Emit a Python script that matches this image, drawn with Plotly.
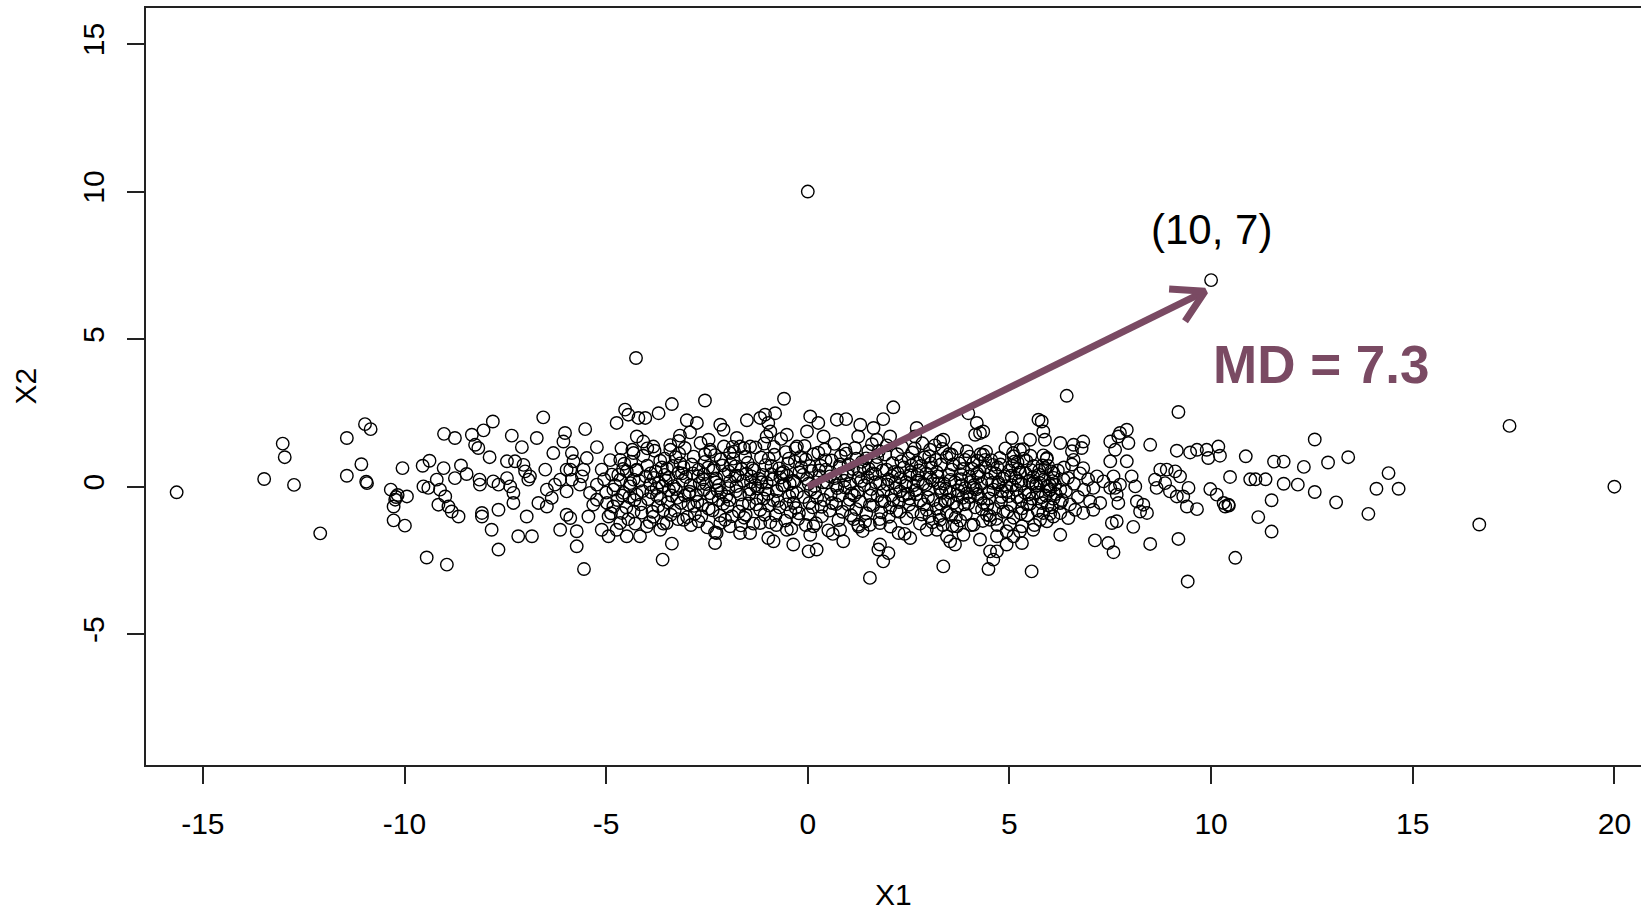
import math
import plotly.graph_objects as go

# ---------------- data ----------------
left_tail = [(-15.65, -0.19), (-13.02, 1.46), (-12.97, 1.0), (-13.48, 0.26), (-12.74, 0.06),
             (-12.09, -1.58), (-11.43, 1.65), (-11.43, 0.37), (-10.98, 2.12), (-10.84, 1.95),
             (-11.07, 0.76), (-10.95, 0.17), (-10.93, 0.12), (-10.05, 0.63), (-10.34, -0.10),
             (-10.21, -0.35), (-10.23, -0.44), (-10.27, -0.67), (-9.94, -0.33), (-10.27, -1.14),
             (-9.99, -1.32), (-10.17, -0.28), (-9.45, -2.40), (-9.38, 0.88), (-9.55, 0.71),
             (-9.53, 0.01), (-9.41, -0.04), (-9.16, -0.61), (-9.2, 0.24)]

left_band = [(-9.02, 1.79), (-8.75, 1.65), (-8.33, 1.76), (-8.04, 1.91), (-7.81, 2.21), (-8.25, 1.42),
             (-8.17, 1.31), (-7.89, 1.0), (-9.03, 0.63), (-8.6, 0.72), (-8.75, 0.29), (-8.46, 0.43),
             (-8.14, 0.24), (-8.13, 0.07), (-7.8, 0.18), (-7.67, 0.07), (-7.46, 0.86), (-7.34, 1.73),
             (-7.26, 0.86), (-7.05, 0.74), (-7.01, 0.52), (-6.93, 0.24), (-6.89, 0.35), (-7.09, 1.34),
             (-6.72, 1.65), (-6.56, 2.35), (-6.51, 0.58), (-7.46, 0.29), (-7.38, 0.01), (-7.3, -0.21),
             (-7.67, -0.78), (-8.08, -0.89), (-8.08, -1.01), (-7.84, -1.46), (-7.67, -2.13), (-7.3, -0.55),
             (-6.97, -1.01), (-7.18, -1.68), (-6.84, -1.68), (-8.95, -2.64), (-8.99, -0.33), (-8.91, -0.67),
             (-8.66, -1.01), (-8.83, -0.84), (-9.12, -0.1), (-6.68, -0.55), (-6.47, -0.67), (-6.35, -0.38),
             (-6.27, 0.07), (-6.14, 0.24), (-6.47, -0.1), (-6.31, 1.14), (-6.06, 1.53), (-6.02, 1.82),
             (-5.85, 1.14), (-5.81, 0.86), (-5.89, 0.58), (-5.52, 1.95), (-5.23, 1.34), (-5.48, 0.97),
             (-5.56, 0.58), (-5.6, 0.35), (-5.65, 0.07), (-5.4, -0.21), (-5.23, 0.07), (-5.98, 0.58),
             (-5.85, 0.24), (-5.98, -0.16), (-5.98, -0.95), (-5.89, -1.06), (-6.14, -1.46), (-5.73, -1.51),
             (-5.73, -2.02), (-5.55, -2.79), (-5.44, -1.01), (-5.32, -0.61), (-5.23, -0.44), (-5.11, -1.46),
             (-4.94, -1.68), (-4.74, -1.46), (-4.49, -1.68), (-4.65, -1.23), (-4.98, -0.55), (-4.82, -0.67),
             (-4.94, -1.01), (-4.61, -0.89), (-4.32, -0.84), (-5.11, 0.58), (-4.86, 0.41), (-4.65, 0.24),
             (-4.49, 0.52), (-4.32, 0.24), (-4.24, 0.58), (-4.41, 0.01), (-4.82, -0.1), (-4.57, -0.21),
             (-4.24, -0.27), (-4.65, 0.91), (-4.32, 1.14), (-4.74, 2.16), (-4.53, 2.61), (-4.45, 2.44),
             (-4.2, 2.33), (-4.24, 1.7)]

core_edges = [(-2.55, 2.92), (-3.37, 2.80), (-3.7, 2.49), (-4.03, 2.33), (-3.0, 2.25), (-2.75, 2.16),
              (-2.92, 1.84), (-3.17, 1.73), (-2.17, 2.1), (-2.09, 1.93), (-2.46, 1.59), (-2.42, 1.25),
              (-1.76, 1.65), (-1.68, 1.36), (-1.51, 2.25), (-1.18, 2.33), (-1.06, 2.44), (-0.81, 2.49),
              (-0.98, 2.16), (-0.93, 1.87), (-0.59, 2.98), (-0.52, 1.76), (-0.27, 1.36), (0.06, 2.38),
              (0.26, 2.16), (0.39, 1.7), (-0.02, 1.87), (0.72, 2.27), (-1.02, 1.7), (-1.43, 1.36),
              (-1.93, 1.14), (-3.41, 1.25), (-3.83, 1.36), (-4.08, 1.53),
              (-3.6, -2.47), (-3.37, -1.93), (-3.08, -1.12), (-2.71, -1.17), (-2.3, -1.91), (-2.26, -1.57),
              (-1.68, -1.57), (-1.43, -1.57), (-0.98, -1.74), (-0.85, -1.85), (-0.36, -1.96), (0.02, -2.19),
              (0.22, -2.13), (0.06, -1.63), (0.14, -1.34), (-0.52, -1.46), (-1.18, -1.23), (-1.93, -1.34),
              (-2.17, -1.23), (-3.66, -1.46), (-3.99, -1.34), (-3.5, -1.23), (-4.16, -1.68),
              (0.95, 2.29), (2.12, 2.69), (1.87, 2.29), (1.3, 2.1), (1.63, 1.99), (1.25, 1.7), (1.71, 1.59),
              (2.04, 1.7), (2.7, 1.99), (2.66, 1.7), (3.98, 2.49), (4.19, 2.16), (4.27, 1.82), (4.15, 1.76),
              (4.35, 1.87), (3.36, 1.59), (3.28, 1.53), (3.03, 1.25), (3.57, 1.08), (3.9, 0.91), (4.35, 1.08),
              (4.4, 0.91), (5.06, 1.65), (5.51, 1.59), (5.72, 2.27), (5.26, 1.25), (5.1, 1.03),
              (1.54, -3.09), (3.36, -2.7), (4.48, -2.79), (4.6, -2.47), (4.69, -2.19), (4.52, -2.19),
              (4.93, -1.96), (4.69, -1.68), (5.55, -2.87), (5.26, -1.51), (5.31, -1.91), (5.1, -1.68),
              (4.27, -1.79), (3.53, -1.85), (3.65, -1.96), (3.86, -1.63), (3.45, -1.68), (1.75, -2.13),
              (1.87, -2.53), (2.0, -2.25), (1.79, -1.96), (2.25, -1.57), (2.54, -1.74), (1.25, -1.29),
              (1.54, -1.29), (1.79, -1.23), (0.88, -1.85), (0.8, -1.46), (2.95, -1.46), (3.2, -1.46),
              (3.28, -1.12), (3.69, -1.34), (4.11, -1.29), (4.52, -1.12), (4.93, -1.51), (5.31, -1.34),
              (5.59, -1.46)]

core = [(-4.02, 0.35), (-3.96, -0.42), (-4.08, 1.05), (-3.91, 0.08), (-4.12, -0.88), (-3.98, 0.71), (-3.88, -0.19),
        (-3.77, 0.52), (-3.71, -0.66), (-3.80, 1.22), (-3.69, 0.14), (-3.83, -1.02), (-3.74, -0.31), (-3.66, 0.88),
        (-3.52, 0.21), (-3.47, -0.53), (-3.55, 0.95), (-3.44, -0.12), (-3.58, -1.25), (-3.49, 0.61), (-3.41, 1.41),
        (-3.27, -0.08), (-3.21, 0.47), (-3.30, -0.81), (-3.19, 1.12), (-3.33, 0.02), (-3.24, -0.38), (-3.16, 0.79),
        (-3.02, 0.33), (-2.96, -0.61), (-3.05, 1.31), (-2.93, -0.17), (-3.08, 0.66), (-2.99, -1.03), (-2.91, 0.05),
        (-2.77, -0.29), (-2.71, 0.58), (-2.80, -0.92), (-2.68, 0.12), (-2.83, 1.02), (-2.74, -0.51), (-2.66, 1.48),
        (-2.52, 0.09), (-2.46, -0.74), (-2.55, 0.84), (-2.43, -0.22), (-2.58, 0.41), (-2.49, -1.38), (-2.41, 1.18),
        (-2.27, 0.28), (-2.21, -0.45), (-2.30, 1.07), (-2.18, -0.98), (-2.33, 0.63), (-2.24, -0.12), (-2.16, 0.93),
        (-2.02, -0.33), (-1.96, 0.51), (-2.05, -1.12), (-1.93, 0.18), (-2.08, 1.36), (-1.99, -0.67), (-1.91, 0.77),
        (-1.77, 0.02), (-1.71, -0.84), (-1.80, 0.69), (-1.68, -0.27), (-1.83, 1.19), (-1.74, 0.37), (-1.66, -1.31),
        (-1.52, 0.44), (-1.46, -0.57), (-1.55, 1.02), (-1.43, -0.09), (-1.58, -1.05), (-1.49, 0.81), (-1.41, 0.16),
        (-1.27, -0.39), (-1.21, 0.27), (-1.30, 1.33), (-1.18, -0.78), (-1.33, 0.56), (-1.24, -0.06), (-1.16, 0.99),
        (-1.02, 0.13), (-0.96, -0.64), (-1.05, 0.73), (-0.93, -1.21), (-1.08, 1.46), (-0.99, -0.24), (-0.91, 0.42),
        (-0.77, -0.15), (-0.71, 0.62), (-0.80, -0.97), (-0.68, 0.31), (-0.83, 1.08), (-0.74, -0.48), (-0.66, 1.62),
        (-0.52, 0.38), (-0.46, -0.33), (-0.55, 1.17), (-0.43, -0.86), (-0.58, 0.04), (-0.49, 0.79), (-0.41, -1.42),
        (-0.27, -0.21), (-0.21, 0.49), (-0.30, -0.72), (-0.18, 1.01), (-0.33, 0.17), (-0.24, -1.09), (-0.16, 0.66),
        (-0.02, 0.26), (0.04, -0.55), (-0.05, 0.92), (0.07, -0.11), (-0.08, 1.38), (0.01, -0.93), (0.09, 0.53),
        (0.23, -0.37), (0.29, 0.36), (0.20, -1.24), (0.32, 0.71), (0.17, 0.02), (0.26, 1.15), (0.34, -0.68),
        (0.48, 0.14), (0.54, -0.81), (0.45, 0.58), (0.57, -0.26), (0.42, 1.26), (0.51, -1.48), (0.59, 0.89),
        (0.73, -0.05), (0.79, 0.67), (0.70, -0.59), (0.82, 1.04), (0.67, 0.29), (0.76, -1.13), (0.84, 0.45),
        (0.98, 0.41), (1.04, -0.44), (0.95, 1.12), (1.07, -0.97), (0.92, -0.02), (1.01, 0.76), (1.09, -0.23),
        (1.23, -0.18), (1.29, 0.53), (1.20, -0.76), (1.32, 0.19), (1.17, 1.31), (1.26, -1.35), (1.34, 0.84),
        (1.48, 0.32), (1.54, -0.62), (1.45, 0.96), (1.57, -0.08), (1.42, -1.18), (1.51, 0.61), (1.59, 1.44),
        (1.73, -0.31), (1.79, 0.11), (1.70, 0.74), (1.82, -0.87), (1.67, 0.43), (1.76, 1.21), (1.84, -0.49),
        (1.98, 0.07), (2.04, -0.71), (1.95, 0.58), (2.07, -0.29), (1.92, 1.09), (2.01, -1.02), (2.09, 0.36),
        (2.23, 0.46), (2.29, -0.16), (2.20, -0.83), (2.32, 0.86), (2.17, 0.15), (2.26, -0.52), (2.34, 1.34),
        (2.48, -0.24), (2.54, 0.39), (2.45, -1.07), (2.57, 0.72), (2.42, 0.03), (2.51, -0.61), (2.59, 1.16),
        (2.73, 0.21), (2.79, -0.47), (2.70, 0.83), (2.82, -0.94), (2.67, -0.12), (2.76, 0.55), (2.84, 1.47),
        (2.98, -0.36), (3.04, 0.31), (2.95, -0.78), (3.07, 0.64), (2.92, 0.06), (3.01, 1.03), (3.09, -1.21),
        (3.23, 0.12), (3.29, -0.58), (3.20, 0.49), (3.32, -0.21), (3.17, 0.91), (3.26, -0.99), (3.34, 1.28),
        (3.48, -0.44), (3.54, 0.23), (3.45, -0.86), (3.57, 0.58), (3.42, -0.07), (3.51, 1.11), (3.59, -1.33),
        (3.73, -0.13), (3.79, 0.42), (3.70, -0.69), (3.82, 0.05), (3.67, -1.04), (3.76, 0.79), (3.84, -0.38),
        (3.98, -0.57), (4.04, 0.16), (3.95, -0.22), (4.07, 0.61), (3.92, -0.93), (4.01, 1.02), (4.09, -0.04),
        (4.23, 0.34), (4.29, -0.41), (4.20, 0.88), (4.32, -0.77), (4.17, -0.09), (4.26, 0.53), (4.34, -1.16),
        (4.48, -0.19), (4.54, 0.47), (4.45, -0.62), (4.57, 0.13), (4.42, 1.19), (4.51, -0.98), (4.59, 0.74),
        (4.73, 0.08), (4.79, -0.53), (4.70, 0.66), (4.82, -0.16), (4.67, -1.09), (4.76, 0.97), (4.84, 0.28),
        (4.98, -0.32), (5.04, 0.37), (4.95, -0.84), (5.07, 0.71), (4.92, 0.02), (5.01, -1.27), (5.09, 1.14),
        (5.23, 0.19), (5.29, -0.46), (5.20, 0.82), (5.32, -0.73), (5.17, -0.11), (5.26, 0.48), (5.34, 1.27),
        (5.48, -0.27), (5.54, 0.56), (5.45, -0.97), (5.57, 0.11), (5.42, 0.87), (5.51, -0.58), (5.59, 0.33),
        (5.73, 0.41), (5.79, -0.36), (5.70, -0.81), (5.82, 0.72), (5.67, 0.04), (5.76, -1.12), (5.84, 1.06),
        (5.98, -0.14), (6.04, 0.52), (5.95, -0.63), (6.07, 0.19), (5.92, 0.94), (6.01, -0.92), (6.09, -0.41)]

core_inner = [(-4.4, 0.12), (-4.3, -0.45), (-4.55, 0.78), (-4.6, -0.3), (-4.35, 1.25), (-4.15, -0.6), (-4.45, -1.1),
              (-4.25, 0.55), (-4.7, 0.4), (-4.5, -0.7), (-3.9, 0.45), (-3.85, -0.85), (-3.6, 0.02), (-3.65, -0.4),
              (-3.55, 0.4), (-3.4, -0.95), (-3.35, 0.7), (-3.15, -0.55), (-3.1, 0.2), (-3.2, 1.55), (-2.95, -0.25),
              (-2.85, 0.45), (-2.9, -1.3), (-2.6, 0.25), (-2.62, -0.62), (-2.55, 1.1), (-2.38, -0.35), (-2.35, 0.55),
              (-2.3, -1.55), (-2.2, 0.05), (-2.12, 0.72), (-2.1, -0.58), (-1.97, -0.05), (-1.88, -1.0), (-1.85, 0.95),
              (-1.8, 0.35), (-1.62, -0.6), (-1.6, 0.2), (-1.58, 1.3), (-1.45, -0.25), (-1.38, 0.62), (-1.35, -1.25),
              (-1.3, 0.05), (-1.12, 0.4), (-1.1, -0.4), (-1.07, -0.95), (-0.97, 0.95), (-0.88, 0.25), (-0.86, -0.45),
              (-0.84, 1.35), (-0.7, -0.7), (-0.63, 0.05), (-0.6, 0.5), (-0.56, -1.15), (-0.47, 0.95), (-0.38, -0.2),
              (-0.36, 0.2), (-0.35, -0.55), (-0.3, 1.3), (-0.22, -0.9), (-0.12, 0.4), (-0.1, -0.35), (-0.05, -1.3),
              (0.02, 0.1), (0.05, 0.7), (0.12, -0.7), (0.14, 1.1), (0.18, -0.2), (0.28, 0.55), (0.35, -1.0),
              (0.38, 0.15), (0.4, -0.45), (0.44, 0.9), (0.55, 0.35), (0.6, -0.55), (0.62, -1.6), (0.66, 1.45),
              (0.7, 0.05), (0.78, -0.3), (0.8, 0.75), (0.86, -0.85), (0.9, 0.2), (0.93, 1.25), (1.0, -0.6),
              (1.05, 0.1), (1.12, 0.6), (1.14, -1.1), (1.15, -0.3), (1.2, 0.95), (1.25, 0.3), (1.3, -0.5),
              (1.36, -1.5), (1.38, 0.65), (1.4, 0.05), (1.45, -0.9), (1.5, 1.2), (1.55, -0.3), (1.6, 0.45),
              (1.62, -0.65), (1.68, 0.15), (1.72, 1.0), (1.78, -1.1), (1.85, 0.55), (1.88, -0.15), (1.9, -0.5),
              (1.96, 1.4), (2.0, 0.25), (2.05, -1.35), (2.1, 0.8), (2.12, -0.45), (2.15, 0.5), (2.18, -0.05),
              (2.22, 1.1), (2.28, -0.85), (2.3, 0.3), (2.36, -0.3), (2.38, 0.65), (2.4, -1.6), (2.44, 0.15),
              (2.5, 0.95), (2.52, -0.4), (2.56, 0.5), (2.6, -0.85), (2.62, 0.05), (2.65, 1.3), (2.7, -0.25),
              (2.72, 0.4), (2.78, -1.25), (2.8, 0.7), (2.86, 0.1), (2.88, -0.6), (2.9, 1.0), (2.94, 0.45),
              (3.0, -0.1), (3.02, -1.0), (3.05, 0.8), (3.1, 0.2), (3.12, -0.45), (3.15, 1.4), (3.2, -0.75),
              (3.22, 0.35), (3.28, -0.05), (3.3, 0.75), (3.35, -1.3), (3.38, 0.1), (3.4, -0.5), (3.44, 1.0),
              (3.5, 0.4), (3.52, -0.2), (3.56, -0.95), (3.6, 0.75), (3.62, -0.55), (3.65, 0.15), (3.7, 1.3),
              (3.72, -0.3), (3.78, -1.15), (3.8, 0.25), (3.85, 0.6), (3.88, -0.6), (3.9, -0.05), (3.94, 1.2),
              (4.0, 0.35), (4.02, -0.35), (4.05, -1.3), (4.1, 0.8), (4.12, 0.05), (4.15, -0.7), (4.2, 0.45),
              (4.22, -0.25), (4.28, 1.1), (4.3, 0.1), (4.36, -0.55), (4.4, 0.65), (4.44, -0.95), (4.46, 0.25),
              (4.5, -0.4), (4.55, 0.9), (4.6, -0.1), (4.62, -0.75), (4.65, 0.45), (4.7, -1.3), (4.72, 0.15),
              (4.78, 0.75), (4.8, -0.35), (4.85, -0.85), (4.88, 0.35), (4.9, 1.3), (4.94, -0.15), (5.0, 0.55),
              (5.02, -0.6), (5.06, 0.05), (5.1, -1.05), (5.12, 0.85), (5.15, 0.3), (5.2, -0.35), (5.22, 0.6),
              (5.28, -0.9), (5.3, 0.1), (5.35, 0.95), (5.38, -0.2), (5.4, 0.45), (5.44, -0.6), (5.5, 0.2),
              (5.52, 1.05), (5.56, -0.4), (5.6, 0.7), (5.62, -1.3), (5.66, 0.1), (5.7, -0.2), (5.74, 0.55),
              (5.8, -0.55), (5.86, 0.25), (5.9, -0.3), (5.96, 0.7), (6.0, 0.05), (6.05, -0.7), (6.1, 0.3),
              (6.15, -0.25), (6.2, 0.55), (6.3, -0.45)]

core_left_extra = [(-5.05, 0.25), (-5.0, -0.2), (-4.9, 0.9), (-4.88, -0.9), (-4.78, 0.05), (-4.72, -0.45),
                   (-4.62, 1.3), (-4.58, 0.6), (-4.42, -0.35), (-4.38, 0.85), (-4.28, -1.25), (-4.18, 0.2),
                   (-4.1, -0.15), (-3.98, 1.3), (-3.92, -1.2), (-3.82, 0.3), (-3.75, -0.05), (-3.62, 0.65),
                   (-3.58, -0.8), (-3.45, 0.3), (-3.38, -0.3), (-3.28, 1.0), (-3.22, -1.1), (-3.12, 0.45),
                   (-3.05, -0.3), (-2.88, 0.75), (-2.82, -0.65), (-2.72, 0.35), (-2.64, -1.0), (-2.58, -0.1),
                   (-2.47, 0.65), (-2.36, -0.8), (-2.28, 0.15), (-2.15, -0.2), (-2.06, 0.4), (-1.94, -0.45),
                   (-1.86, 1.35), (-1.78, -0.15), (-1.64, 0.6), (-1.54, -0.95), (-1.4, 0.35), (-1.28, -0.6),
                   (-1.15, 0.15), (-1.04, -0.1), (-0.9, 0.7), (-0.78, -1.3), (-0.65, 0.45), (-0.53, -0.6),
                   (-0.45, 0.1), (-0.32, 0.85)]

core_right_extra = [(6.35, 0.65), (6.4, -0.15), (6.45, 0.3), (6.5, -0.6), (6.6, 0.1), (6.7, -0.35),
                    (6.75, 0.45), (6.85, -0.1), (6.95, 0.25), (7.0, -0.5)]

right_band = [(9.19, 2.53), (5.8, 2.21), (5.84, 1.87), (5.88, 1.59), (6.26, 1.48), (6.59, 1.42), (6.83, 1.53),
              (6.79, 1.31), (6.55, 1.2), (6.59, 0.91), (6.55, 0.75), (6.83, 0.63), (5.93, 0.97), (5.88, 0.63),
              (6.09, 0.46), (6.13, 0.07), (6.26, -0.1), (5.93, 0.01), (6.34, 0.24), (7.5, 1.53), (7.74, 1.82),
              (7.91, 1.93), (7.7, 1.7), (7.95, 1.48), (7.62, 1.25), (8.49, 1.42), (9.15, 1.22), (9.48, 1.16),
              (9.65, 1.25), (9.89, 1.25), (10.18, 1.36), (10.22, 1.05), (9.93, 0.97), (10.47, 0.33),
              (9.98, -0.08), (10.14, -0.27), (10.31, -0.55), (10.43, -0.61), (10.35, -0.67), (10.6, -2.41),
              (9.42, -3.21), (9.19, -1.77), (8.49, -1.94), (9.65, -0.76), (9.4, -0.67), (9.31, -0.33),
              (9.15, -0.33), (8.98, -0.16), (8.86, 0.12), (9.11, 0.52), (8.9, 0.58), (8.74, 0.58), (8.61, 0.24),
              (8.65, -0.04), (9.44, -0.04), (9.23, 0.35), (7.91, 0.86), (7.5, 0.86), (7.17, 0.35), (7.08, -0.04),
              (7.33, 0.18), (7.58, 0.35), (7.62, -0.04), (7.74, 0.07), (8.03, 0.35), (8.12, 0.01), (8.16, -0.5),
              (8.24, -0.84), (8.32, -0.61), (8.41, -0.89), (7.25, -0.55), (7.08, -0.78), (6.83, -0.89),
              (6.63, -0.78), (6.46, -1.06), (6.26, -0.89), (6.09, -1.01), (5.84, -0.89), (5.93, -1.17),
              (6.26, -1.63), (7.12, -1.82), (7.45, -1.91), (7.58, -2.22), (7.54, -1.23), (7.66, -1.17),
              (8.07, -1.36), (7.7, -0.55), (7.66, -0.27), (7.5, -0.04), (6.26, -0.55), (6.01, -0.1), (5.76, 0.12)]

right_tail = [(17.4, 2.06), (16.65, -1.28), (14.65, -0.07), (14.4, 0.46), (14.1, -0.07), (13.9, -0.92),
              (13.4, 1.0), (13.1, -0.53), (12.9, 0.82), (12.57, 1.6), (12.57, -0.18), (12.3, 0.67),
              (12.15, 0.07), (11.8, 0.1), (11.8, 0.85), (11.56, 0.85), (11.5, -0.46), (11.5, -1.52),
              (11.35, 0.25), (11.1, 0.25), (10.97, 0.25), (10.86, 1.03), (11.17, -1.03), (10.44, -0.64),
              (20.0, 0.0)]

outliers = [(0.0, 10.0), (10.0, 7.0), (-4.26, 4.36), (6.42, 3.08)]

x_ticks = [-15, -10, -5, 0, 5, 10, 15, 20]
y_ticks = [-5, 0, 5, 10, 15]
x_range = [-16.41, 20.66]
y_range = [-9.43, 16.22]

arrow_start = (0.0, 0.0)
arrow_tip = (9.85, 6.62)
point_label = "(10, 7)"
point_label_pos = (10.0, 8.70)
md_label = "MD = 7.3"
md_label_pos = (10.0, 4.13)
arrow_color = "#7a4a63"

# ---------------- figure ----------------
W, H = 1641, 910
ML, MR, MT, MB = 146, 0, 8, 144.5
FONT = "Liberation Sans, Arial, sans-serif"

pts = (left_tail + left_band + core_edges + core + core_inner + core_left_extra + core_right_extra
       + right_band + right_tail + outliers)
xs = [p[0] for p in pts]
ys = [p[1] for p in pts]

fig = go.Figure()
fig.add_trace(go.Scatter(
    x=xs, y=ys, mode="markers",
    marker=dict(symbol="circle-open", size=12.5, color="black", line=dict(width=1.4, color="black")),
    hoverinfo="skip", showlegend=False))

# arrow (shaft + open head), head geometry computed in pixel space
kx = (W - ML - MR) / (x_range[1] - x_range[0])
ky = (H - MT - MB) / (y_range[1] - y_range[0])
dxp = (arrow_tip[0] - arrow_start[0]) * kx
dyp = (arrow_tip[1] - arrow_start[1]) * ky
theta = math.atan2(dyp, dxp)
L = 36
arms = []
for s in (+1, -1):
    phi = theta + math.pi + s * math.pi / 6
    arms.append((arrow_tip[0] + L * math.cos(phi) / kx, arrow_tip[1] + L * math.sin(phi) / ky))

fig.add_trace(go.Scatter(
    x=[arrow_start[0], arrow_tip[0]], y=[arrow_start[1], arrow_tip[1]], mode="lines",
    line=dict(color=arrow_color, width=7), hoverinfo="skip", showlegend=False))
fig.add_trace(go.Scatter(
    x=[arms[0][0], arrow_tip[0], arms[1][0]], y=[arms[0][1], arrow_tip[1], arms[1][1]], mode="lines",
    line=dict(color=arrow_color, width=7), hoverinfo="skip", showlegend=False))

fig.add_annotation(x=point_label_pos[0], y=point_label_pos[1], text=point_label, showarrow=False,
                   font=dict(family=FONT, size=42, color="black"), xanchor="center", yanchor="middle")
fig.add_annotation(x=md_label_pos[0], y=md_label_pos[1], text="<b>" + md_label + "</b>", showarrow=False,
                   font=dict(family=FONT, size=53, color=arrow_color), xanchor="left", yanchor="middle")

# axis titles
fig.add_annotation(xref="paper", yref="paper", x=0.5, y=0, yshift=-129.5, text="X1", showarrow=False,
                   font=dict(family=FONT, size=30, color="black"), xanchor="center", yanchor="middle")
fig.add_annotation(xref="paper", yref="paper", x=0, y=0.5, xshift=-121, text="X2", showarrow=False,
                   textangle=-90, font=dict(family=FONT, size=30, color="black"),
                   xanchor="center", yanchor="middle")

axis_common = dict(showgrid=False, zeroline=False, showline=True, linecolor="#222", linewidth=1.5,
                   ticks="outside", ticklen=17, tickwidth=1.5, tickcolor="#222",
                   tickfont=dict(family=FONT, size=30, color="black"))

fig.update_xaxes(range=x_range, tickvals=x_ticks, ticktext=[str(v) for v in x_ticks],
                 mirror=True, ticklabelstandoff=14, **axis_common)
fig.update_yaxes(range=y_range, tickvals=y_ticks, ticktext=[str(v) for v in y_ticks],
                 tickangle=-90, ticklabelstandoff=11, **axis_common)

fig.update_layout(width=W, height=H, margin=dict(l=ML, r=MR, t=MT, b=MB),
                  plot_bgcolor="white", paper_bgcolor="white", font=dict(family=FONT))

fig.write_html("out.html")
